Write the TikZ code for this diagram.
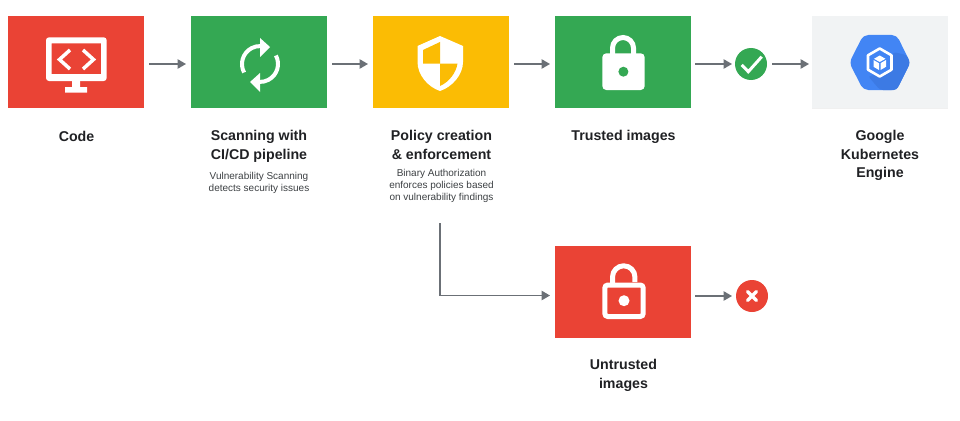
\documentclass[tikz,border=0pt]{standalone}
\usepackage{fontspec}
\setmainfont{Liberation Sans}
\usetikzlibrary{arrows.meta, positioning, calc}
\definecolor{gred}{HTML}{EA4335}
\definecolor{ggreen}{HTML}{34A853}
\definecolor{gyellow}{HTML}{FBBC04}
\definecolor{gblue}{HTML}{4285F4}
\definecolor{gblued}{HTML}{3C7AE4}
\definecolor{ggrey}{HTML}{F1F3F4}
\definecolor{garrow}{HTML}{6B7076}
\definecolor{gtext}{HTML}{202124}
\definecolor{gnote}{HTML}{3C4043}
\tikzset{
  stepbox/.style={minimum width=136pt, minimum height=92pt, inner sep=0pt, outer sep=0pt},
  title/.style={font=\fontsize{14.2}{18.2}\selectfont\bfseries, text=gtext, align=center, inner sep=0pt},
  note/.style={font=\fontsize{10}{12}\selectfont, text=gnote, align=center, inner sep=0pt},
  flow/.style={draw=garrow, line width=1.3pt, -{Triangle[length=8.5pt,width=9.5pt]}, shorten <=5pt, shorten >=5pt},
  badge/.style={circle, minimum size=32pt, inner sep=0pt, outer sep=0pt},
  icon/.style={draw=white, line width=5pt},
}
\begin{document}
\begin{tikzpicture}[x=1pt, y=-1pt, >=latex]
\useasboundingbox (0,0) rectangle (960,420);
% boxes
\node[stepbox, fill=gred] (code) at (76,62) {};
\node[stepbox, fill=ggreen] (scan) at (259,62) {};
\node[stepbox, fill=gyellow] (policy) at (441,62) {};
\node[stepbox, fill=ggreen] (trusted) at (623,62) {};
\node[stepbox, fill=ggrey] (gke) at (880,62) {};
\node[stepbox, fill=gred] (untrusted) at (623,291.5) {};
\node[badge, fill=ggreen] (pass) at (751,64) {};
\node[badge, fill=gred] (fail) at (752,296) {};
% labels
\node[title] (codetext) at (76.5,136) {Code};
\node[title, anchor=north] (scantext) at (259,130.5) {Scanning with\\CI/CD pipeline};
\node[note, below=10pt of scantext] (scannote) {Vulnerability Scanning\\detects security issues};
\node[title, anchor=north] (policytext) at (441.5,130.5) {Policy creation\\\& enforcement};
\node[note, below=10pt of policytext] (policynote) {Binary Authorization\\enforces policies based\\on vulnerability findings};
\node[title] (trustedtext) at (623.5,137) {Trusted images};
\node[title, anchor=north] (gketext) at (880,130.5) {Google\\Kubernetes\\Engine};
\node[title, anchor=north] (untrustedtext) at (623.5,359.5) {Untrusted\\images};
% arrows
\coordinate (branch) at (440,223);
\coordinate (codeout) at (144,64);
\coordinate (scanin) at (191,64);
\coordinate (scanout) at (327,64);
\coordinate (policyin) at (373,64);
\coordinate (policyout) at (509,64);
\coordinate (trustedin) at (555,64);
\coordinate (trustedout) at (691,64);
\coordinate (gkein) at (812,64);
\coordinate (untrustedin) at (555,295.5);
\coordinate (untrustedout) at (691,296);
\draw[flow] (codeout) -- (scanin);
\draw[flow] (scanout) -- (policyin);
\draw[flow] (policyout) -- (trustedin);
\draw[flow, shorten <=4pt, shorten >=3pt] (trustedout) -- (pass);
\draw[flow, shorten <=5pt, shorten >=3pt] (pass) -- (gkein);
\draw[flow, shorten <=0pt] (branch) |- (untrustedin);
\draw[flow, shorten <=4pt, shorten >=4pt] (untrustedout) -- (fail);
% monitor
\fill[white, even odd rule] [rounded corners=3pt] (46,37.3) rectangle (106.7,81)
  [sharp corners] (51.7,43.3) rectangle (101,74);
\fill[white] (72,80) rectangle (80,88) (65,87) rectangle (87,92.5);
\draw[icon, line width=3.5pt] (70,50) -- (59.5,59.5) -- (70,69) (83,50) -- (93.5,59.5) -- (83,69);
% refresh
\draw[icon, line width=4pt] (244.1,72.5) arc[start angle=152, end angle=272, radius=18];
\draw[icon, line width=4pt] (275.9,55.5) arc[start angle=-28, end angle=92, radius=18];
\fill[white] (260,38) -- (270,47) -- (260,57) -- cycle;
\fill[white] (260,73) -- (250,82) -- (260,92) -- cycle;
% shield
\fill[white] (440,36) -- (463,46) -- (463,62) .. controls (463,75) and (452,87) .. (440,91)
  .. controls (428,87) and (417.5,75) .. (417.5,62) -- (417.5,46) -- cycle;
\fill[gyellow] (423,63.5) -- (440,63.5) -- (440,42) -- (423,50) -- cycle;
\fill[gyellow] (440,63.5) -- (457.5,63.5) .. controls (456,73) and (449,82) .. (440,86) -- cycle;
% closed lock
\draw[icon] (612.5,54) -- (612.5,48) arc[start angle=180, end angle=360, radius=10.5] -- (633.5,54);
\fill[white, rounded corners=4pt] (602.3,53.3) rectangle (644.7,90);
\fill[ggreen] (623.4,71.7) circle[radius=5];
% open lock
\draw[icon] (612.5,286) -- (612.5,277) arc[start angle=180, end angle=360, radius=11.2] -- (634.9,282);
\draw[icon, rounded corners=3pt] (604.8,285) rectangle (643.2,316.5);
\fill[white] (624,300.7) circle[radius=5.5];
% check and cross
\draw[icon, line width=3pt] (741.7,65) -- (748.3,71.7) -- (761.7,56.7);
\draw[icon, line width=3.5pt, line cap=round] (747.5,291.5) -- (756.5,300.5) (756.5,291.5) -- (747.5,300.5);
% engine
\draw[gray!12, line width=0.8pt] (812,108) -- (948,108);
\fill[gblue, rounded corners=5pt] (849.3,62.7) -- (863.3,35) -- (896.7,35) -- (910.3,62.7) -- (896.7,90) -- (863.3,90) -- cycle;
\fill[gblued, rounded corners=3pt] (889,73) -- (893,52) -- (906.5,55) -- (910.3,62.7) -- (896.7,90) -- (880,90) -- (868,76) -- cycle;
\draw[icon, line width=2.6pt, line join=round] (879.7,48.5) -- (891.5,55.3) -- (891.5,69.7) -- (879.7,76.5) -- (868,69.7) -- (868,55.3) -- cycle;
\fill[white] (879.7,55.5) -- (885.5,58.8) -- (879.7,62) -- (874,58.8) -- cycle;
\fill[white] (873.5,60) -- (879,63.2) -- (879,70) -- (873.5,66.8) -- cycle;
\fill[white] (886,60) -- (880.5,63.2) -- (880.5,70) -- (886,66.8) -- cycle;
\end{tikzpicture}
\end{document}
